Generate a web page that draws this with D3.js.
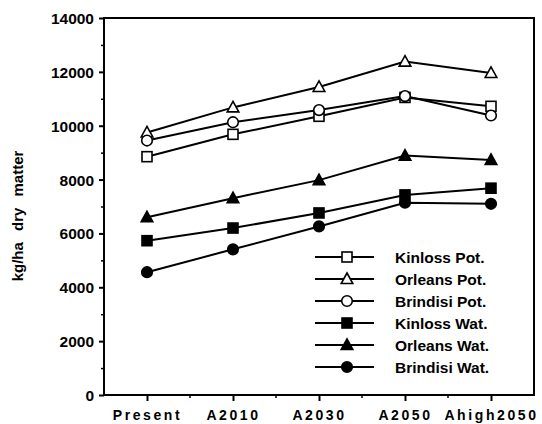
<!DOCTYPE html>
<html><head><meta charset="utf-8">
<script src="https://cdn.jsdelivr.net/npm/d3@7"></script>
<style>
body{margin:0;background:#fff;}
svg text{font-family:"Liberation Sans",Arial,Helvetica,sans-serif;font-weight:bold;fill:#000;}
</style></head>
<body><svg id="c" width="542" height="424"></svg>
<script>
const categories = ["Present","A2010","A2030","A2050","Ahigh2050"];
const kinlossPot  = [8850, 9680, 10350, 11050, 10720];
const orleansPot  = [9750, 10680, 11440, 12380, 11960];
const brindisiPot = [9450, 10130, 10580, 11100, 10380];
const kinlossWat  = [5730, 6200, 6760, 7430, 7680];
const orleansWat  = [6600, 7310, 7980, 8890, 8730];
const brindisiWat = [4560, 5410, 6260, 7140, 7100];
const seriesNames = ["Kinloss Pot.","Orleans Pot.","Brindisi Pot.","Kinloss Wat.","Orleans Wat.","Brindisi Wat."];
const seriesValues = [kinlossPot, orleansPot, brindisiPot, kinlossWat, orleansWat, brindisiWat];
const seriesShapes = ["square","triangle","circle","square","triangle","circle"];
const seriesFilled = [false,false,false,true,true,true];
const yTicks = [0,2000,4000,6000,8000,10000,12000,14000];

const svg = d3.select("#c");
const L=104, R=534, T=18, B=395;
const x = d3.scalePoint().domain(categories).range([L,R]).padding(0.5);
const y = d3.scaleLinear().domain([0,14000]).range([B,T]);

// frame
svg.append("rect").attr("x",L).attr("y",T).attr("width",R-L).attr("height",B-T)
  .attr("fill","none").attr("stroke","#000").attr("stroke-width",2);

// y axis
const yAxis = svg.append("g").attr("transform",`translate(${L},0)`)
  .call(d3.axisLeft(y).tickValues(yTicks).tickFormat(d3.format("d")).tickSize(5).tickPadding(5));
yAxis.select(".domain").remove();
yAxis.selectAll("line").attr("stroke","#000").attr("stroke-width",2);
yAxis.selectAll("text").style("font-size","15.5px").attr("dy","0.35em");
const yMinor = svg.append("g").attr("transform",`translate(${L},0)`)
  .call(d3.axisLeft(y).tickValues(d3.range(1000,14000,2000)).tickFormat("").tickSize(3));
yMinor.select(".domain").remove();
yMinor.selectAll("line").attr("stroke","#000").attr("stroke-width",1.5);

// x axis
const xAxis = svg.append("g").attr("transform",`translate(0,${B})`)
  .call(d3.axisBottom(x).tickSize(6).tickPadding(9));
xAxis.select(".domain").remove();
xAxis.selectAll("line").attr("stroke","#000").attr("stroke-width",2);
xAxis.selectAll("text").style("font-size","14px").style("letter-spacing","2.6px").attr("dy","0.71em");
const step = x.step();
svg.append("g").selectAll("line").data(categories.slice(0,-1)).join("line")
  .attr("x1",d=>x(d)+step/2).attr("x2",d=>x(d)+step/2)
  .attr("y1",B).attr("y2",B+3).attr("stroke","#000").attr("stroke-width",1.5);

// y title
svg.append("text").attr("transform",`translate(23,216) rotate(-90)`)
  .attr("text-anchor","middle").style("font-size","15px").style("word-spacing","7px")
  .text("kg/ha dry matter");

function drawMarker(g, shape, filled, cx, cy){
  const fill = filled ? "#000" : "#fff";
  if(shape==="square"){
    g.append("rect").attr("x",cx-5).attr("y",cy-5).attr("width",10).attr("height",10)
      .attr("fill",fill).attr("stroke","#000").attr("stroke-width",1.6);
  } else if(shape==="circle"){
    g.append("circle").attr("cx",cx).attr("cy",cy).attr("r",5.3)
      .attr("fill",fill).attr("stroke","#000").attr("stroke-width",1.6);
  } else {
    g.append("path").attr("d",`M${cx},${cy-6}L${cx+5.8},${cy+4.5}L${cx-5.8},${cy+4.5}Z`)
      .attr("fill",fill).attr("stroke","#000").attr("stroke-width",1.6).attr("stroke-linejoin","miter");
  }
}

const line = d3.line().x((d,i)=>x(categories[i])).y(d=>y(d));
seriesValues.forEach((vals,si)=>{
  const g = svg.append("g");
  g.append("path").attr("d",line(vals)).attr("fill","none").attr("stroke","#000").attr("stroke-width",2);
  vals.forEach((v,i)=>drawMarker(g, seriesShapes[si], seriesFilled[si], x(categories[i]), y(v)));
});

// legend
const lg = svg.append("g");
seriesNames.forEach((n,i)=>{
  const ly = 257 + i*22;
  lg.append("line").attr("x1",315).attr("x2",374).attr("y1",ly).attr("y2",ly)
    .attr("stroke","#000").attr("stroke-width",2);
  drawMarker(lg, seriesShapes[i], seriesFilled[i], 347, ly);
  lg.append("text").attr("x",395).attr("y",ly).attr("dy","0.36em").style("font-size","15.5px").text(n);
});
</script></body></html>
